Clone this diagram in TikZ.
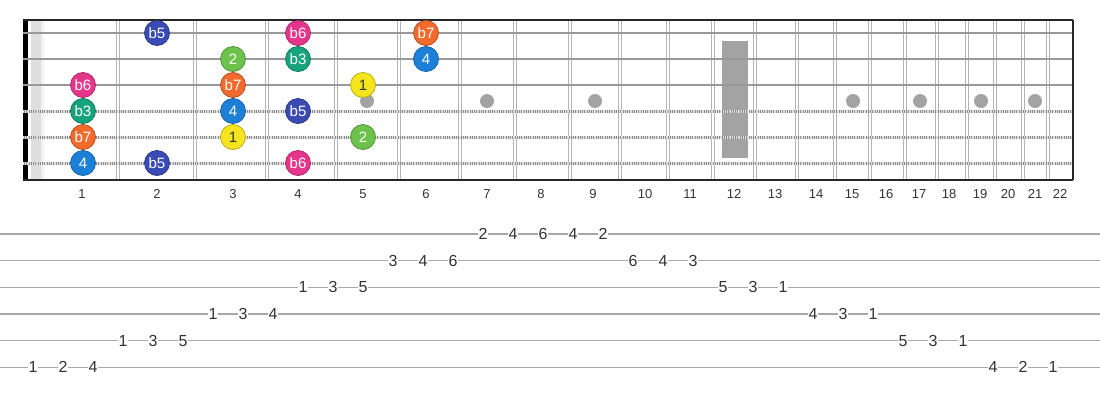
\documentclass[tikz,border=0pt]{standalone}
\usepackage{fontspec}
\setmainfont{Liberation Sans}
\usepackage{tikz}
\usetikzlibrary{positioning}

\definecolor{rootyellow}{HTML}{F5E51F}
\definecolor{secondgreen}{HTML}{6DC24B}
\definecolor{thirdteal}{HTML}{17A37C}
\definecolor{fourthblue}{HTML}{1D80D8}
\definecolor{fifthblue}{HTML}{3A4CB3}
\definecolor{sixthpink}{HTML}{E5368C}
\definecolor{seventhorange}{HTML}{F26A2C}
\definecolor{wiregray}{HTML}{B4B4B4}
\definecolor{inlaygray}{HTML}{A3A3A3}
\definecolor{tabgray}{HTML}{A8A8A8}
\definecolor{digitgray}{HTML}{333333}

\begin{document}
\begin{tikzpicture}[x=1pt, y=-1pt,
		fretwire/.style={draw=wiregray, line width=1.2pt},
		plainstring/.style={draw=wiregray!85!black, line width=2pt},
		woundstring/.style={draw=gray!90, line width=3pt},
		windings/.style={draw=white!75!gray, line width=3pt, dash pattern=on 0.5pt off 1.3pt},
		inlay/.style={circle, fill=inlaygray, minimum size=14pt, inner sep=0pt},
		note/.style={circle, draw=#1!75!black, line width=0.8pt, fill=#1, minimum size=25pt, inner sep=0pt, text=white, font=\fontsize{15}{15}\selectfont},
		fretnum/.style={text=digitgray, font=\fontsize{13}{13}\selectfont},
		tabline/.style={draw=tabgray, line width=1.6pt},
		tabnum/.style={fill=white, inner xsep=0.4pt, inner ysep=0.8pt, text=digitgray, font=\fontsize{16}{16}\selectfont}]

		\useasboundingbox (0,0) rectangle (1100,400);

		% Fretboard
		\fill[gray!25] (31,20) rectangle (41,180);
		\fill[gray!10] (41,20) rectangle (44,180);
		\foreach \x in {118,195,267,336,399,460,515,570,620,668,713,755,797,835,870,905,937,967,995,1023,1048}{
			\draw[fretwire] (\x-1.6,20) -- (\x-1.6,180);
			\draw[fretwire] (\x+1.6,20) -- (\x+1.6,180);
		}
		\fill[inlaygray] (722,41) rectangle (748,158);
		\foreach \x in {367,487,595,853,920,981,1035}
			\node[inlay] (dot\x) at (\x,101) {};
		\fill[black] (23,19) rectangle (28,181);

		% Strings
		\foreach \y in {33,59,85}
			\draw[plainstring] (23,\y) -- (1073,\y);
		\foreach \y in {111,137,163}{
			\draw[woundstring] (23,\y) -- (1073,\y);
			\draw[windings] (23,\y) -- (1073,\y);
		}
		\draw[black!85, line width=1.5pt] (23,20) -- (1073,20);
		\draw[black!85, line width=1.5pt] (23,180) -- (1073,180);
		\draw[black!85, line width=1.5pt] (1073,20) -- (1073,180);

		% Fret numbers
		\foreach \n/\x in {1/82,2/157,3/233,4/298,5/363,6/426,7/487,8/541,9/593,10/645,11/690,12/734,13/775,14/816,15/852,16/886,17/919,18/949,19/980,20/1008,21/1035,22/1060}
			\node[fretnum] (fret\n) at (\x,194) {\n};

		% Notes
		\node[note=fifthblue] (n1f2) at (157,33) {b5};
		\node[note=sixthpink] (n1f4) at (298,33) {b6};
		\node[note=seventhorange] (n1f6) at (426,33) {b7};
		\node[note=secondgreen] (n2f3) at (233,59) {2};
		\node[note=thirdteal] (n2f4) at (298,59) {b3};
		\node[note=fourthblue] (n2f6) at (426,59) {4};
		\node[note=sixthpink] (n3f1) at (83,85) {b6};
		\node[note=seventhorange] (n3f3) at (233,85) {b7};
		\node[note=rootyellow, text=digitgray] (n3f5) at (363,85) {1};
		\node[note=thirdteal] (n4f1) at (83,111) {b3};
		\node[note=fourthblue] (n4f3) at (233,111) {4};
		\node[note=fifthblue] (n4f4) at (298,111) {b5};
		\node[note=seventhorange] (n5f1) at (83,137) {b7};
		\node[note=rootyellow, text=digitgray] (n5f3) at (233,137) {1};
		\node[note=secondgreen] (n5f5) at (363,137) {2};
		\node[note=fourthblue] (n6f1) at (83,163) {4};
		\node[note=fifthblue] (n6f2) at (157,163) {b5};
		\node[note=sixthpink] (n6f4) at (298,163) {b6};

		% Tab
		\foreach \s in {1,...,6}
			\draw[tabline] (0,{234+(\s-1)*26.67}) -- (1100,{234+(\s-1)*26.67});
		\foreach \k/\s/\t in {0/6/1,1/6/2,2/6/4,3/5/1,4/5/3,5/5/5,6/4/1,7/4/3,8/4/4,9/3/1,10/3/3,11/3/5,12/2/3,13/2/4,14/2/6,15/1/2,16/1/4,17/1/6,18/1/4,19/1/2,20/2/6,21/2/4,22/2/3,23/3/5,24/3/3,25/3/1,26/4/4,27/4/3,28/4/1,29/5/5,30/5/3,31/5/1,32/6/4,33/6/2,34/6/1}
			\node[tabnum] (tab\k) at ({33+30*\k},{234+(\s-1)*26.67}) {\t};
	\end{tikzpicture}
\end{document}
